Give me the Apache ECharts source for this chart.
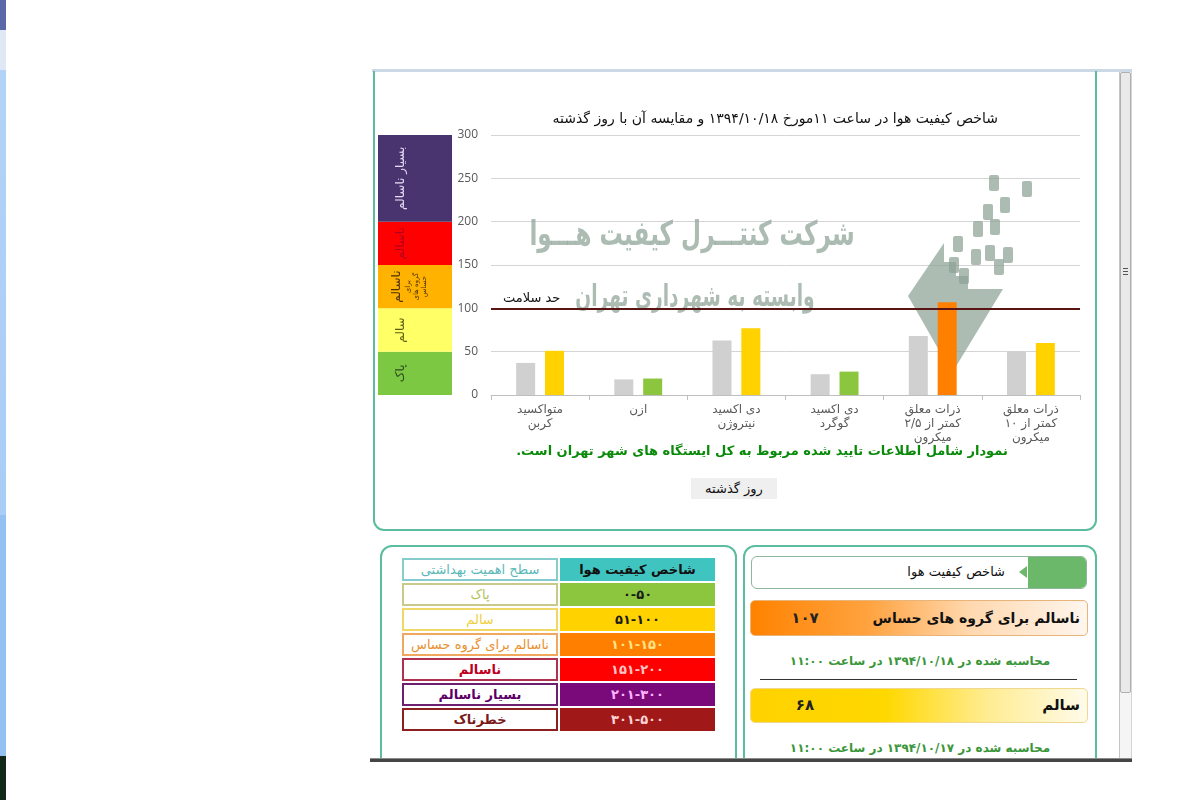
<!DOCTYPE html>
<html><head><meta charset="utf-8">
<script src="https://cdn.jsdelivr.net/npm/echarts@6/dist/echarts.min.js"></script>
<style>
html,body{margin:0;padding:0;}
body{width:1200px;height:800px;overflow:hidden;background:#fff;position:relative;font-family:"DejaVu Sans",sans-serif;}
.abs{position:absolute;box-sizing:border-box;}
.rtl{direction:rtl;white-space:nowrap;}
#chart{position:absolute;left:0;top:0;width:1200px;height:800px;pointer-events:none;direction:rtl;}
.cell{position:absolute;box-sizing:border-box;height:23px;line-height:20px;text-align:center;font-size:13px;direction:rtl;white-space:nowrap;}
</style></head>
<body>
<!-- left browser strip -->
<div class="abs" style="left:0;top:0;width:6px;height:800px;background:linear-gradient(to bottom,#5b68a8 0,#5b68a8 30px,#dfe8f4 30px,#dfe8f4 70px,#b3d2f7 70px,#a9cdf6 515px,#93c1f4 515px,#93c1f4 756px,#12281a 756px,#12281a 800px);"></div>

<!-- top light line -->
<div class="abs" style="left:372px;top:69px;width:760px;height:3px;background:#cbd8e6;"></div>

<!-- clipped page area -->
<div class="abs" style="left:0;top:71px;width:1200px;height:689px;overflow:hidden;">
  <div class="abs" style="left:373px;top:-30px;width:724px;height:490px;border:2px solid #5cbc9f;border-radius:11px;"></div>
  <div class="abs" style="left:380px;top:474px;width:357px;height:300px;border:2px solid #5cbc9f;border-radius:12px;"></div>
  <div class="abs" style="left:743px;top:474px;width:354px;height:300px;border:2px solid #5cbc9f;border-radius:12px;"></div>
</div>

<!-- scrollbar -->
<div class="abs" style="left:1119px;top:72px;width:13px;height:688px;background:#f5f5f5;border-left:1px solid #c4c4c4;border-right:1px solid #d4d4d4;"></div>
<div class="abs" style="left:1120px;top:72px;width:11px;height:621px;background:#e9e9e9;border:1px solid #b0b0b0;border-radius:2px;"></div>
<div class="abs" style="left:1123px;top:268px;width:5px;height:1px;background:#555;"></div>
<div class="abs" style="left:1123px;top:271px;width:5px;height:1px;background:#555;"></div>
<div class="abs" style="left:1123px;top:274px;width:5px;height:1px;background:#555;"></div>

<!-- bottom dark line -->
<div class="abs" style="left:370px;top:758px;width:762px;height:4px;background:linear-gradient(to bottom,#8a8a8a 0,#8a8a8a 1px,#454545 1px);"></div>

<!-- button -->
<div class="abs rtl" id="btn" style="left:691px;top:478px;width:86px;height:21px;background:#efefef;text-align:center;line-height:21px;font-size:13px;color:#111;"></div>

<!-- table container -->
<div id="table"></div>

<!-- right panel -->
<div class="abs" style="left:751px;top:556px;width:336px;height:33px;border:1px solid #8fb79a;border-radius:6px;background:#fff;overflow:hidden;">
  <div class="abs" style="right:0;top:0;width:58px;height:33px;background:#6cb86a;"></div>
</div>
<div class="abs" style="left:1019px;top:566px;width:0;height:0;border-top:6px solid transparent;border-bottom:6px solid transparent;border-right:8px solid #6cb86a;"></div>
<div class="abs rtl" id="hdr" style="left:751px;width:254px;top:556px;height:33px;line-height:31px;text-align:right;font-size:13px;color:#111;"></div>

<div class="abs" style="left:750px;top:600px;width:338px;height:36px;border:1px solid #e8b47a;border-radius:5px;background:linear-gradient(to right,#ff8200 0%,#ffa340 35%,#ffd8ae 65%,#fff6ee 100%);"></div>
<div class="abs rtl" id="todayName" style="left:840px;width:240px;top:600px;height:36px;line-height:36px;text-align:right;font-size:14px;font-weight:bold;color:#111;"></div>
<div class="abs" id="todayVal" style="left:770px;width:70px;top:600px;height:36px;line-height:36px;text-align:center;font-size:15px;font-weight:bold;color:#222;letter-spacing:4px;"></div>
<div class="abs rtl" id="todayCalc" style="left:760px;width:320px;top:652px;height:18px;line-height:18px;text-align:center;font-size:12px;font-weight:bold;color:#3a963a;"></div>
<div class="abs" style="left:760px;top:679px;width:317px;height:1px;background:#333;"></div>
<div class="abs" style="left:750px;top:688px;width:338px;height:35px;border:1px solid #f0d890;border-radius:5px;background:linear-gradient(to right,#ffd200 0%,#ffd800 40%,#ffec90 70%,#fffbea 100%);"></div>
<div class="abs rtl" id="yestName" style="left:840px;width:240px;top:688px;height:35px;line-height:35px;text-align:right;font-size:15px;font-weight:bold;color:#111;"></div>
<div class="abs" id="yestVal" style="left:770px;width:70px;top:688px;height:35px;line-height:35px;text-align:center;font-size:15px;font-weight:bold;color:#222;letter-spacing:4px;"></div>
<div class="abs rtl" id="yestCalc" style="left:760px;width:320px;top:739px;height:18px;line-height:18px;text-align:center;font-size:12px;font-weight:bold;color:#3a963a;"></div>

<div id="chart"></div>

<script>
// ---------- data ----------
const chartTitle = 'شاخص کیفیت هوا در ساعت ۱۱مورخ ۱۳۹۴/۱۰/۱۸ و مقایسه آن با روز گذشته';
const categories = ['متواکسید\nکربن', 'ازن', 'دی اکسید\nنیتروژن', 'دی اکسید\nگوگرد', 'ذرات معلق\nکمتر از ۲/۵\nمیکرون', 'ذرات معلق\nکمتر از ۱۰\nمیکرون'];
const yesterdayValues = [37, 18, 63, 24, 68, 50];
const todayValues = [51, 19, 77, 27, 107, 60];
const axisMin = 0, axisMax = 300, axisStep = 50;
const safeLimit = 100;
const safeLimitLabel = 'حد سلامت';
const bandSpans = [50, 50, 50, 50, 100];
const bandLabels = ['پاک', 'سالم', 'ناسالم', 'ناسالم', 'بسیار ناسالم'];
const bandSubLabel = ['برای', 'گروه های', 'حساس'];
const levelUpper = [50, 100, 150, 200, 300, 500];
const levelBarColors = ['#8cc63e', '#ffd200', '#ff8000', '#ff0000', '#7a0a7a', '#a01818'];
const levelNames = ['پاک', 'سالم', 'ناسالم برای گروه حساس', 'ناسالم', 'بسیار ناسالم', 'خطرناک'];
const levelRanges = ['۰-۵۰', '۵۱-۱۰۰', '۱۰۱-۱۵۰', '۱۵۱-۲۰۰', '۲۰۱-۳۰۰', '۳۰۱-۵۰۰'];
const tableHeaders = ['سطح اهمیت بهداشتی', 'شاخص کیفیت هوا'];
const noteText = 'نمودار شامل اطلاعات تایید شده مربوط به کل ایستگاه های شهر تهران است.';
const buttonText = 'روز گذشته';
const panelHeader = 'شاخص کیفیت هوا';
const todayAQI = '۱۰۷', todayStatus = 'ناسالم برای گروه های حساس', todayCalc = 'محاسبه شده در ۱۳۹۴/۱۰/۱۸ در ساعت ۱۱:۰۰';
const yesterdayAQI = '۶۸', yesterdayStatus = 'سالم', yesterdayCalc = 'محاسبه شده در ۱۳۹۴/۱۰/۱۷ در ساعت ۱۱:۰۰';
const watermark1 = 'شرکت کنتـــرل کیفیت هـــوا';
const watermark2 = 'وابسته به شهرداری تهران';

// ---------- html texts ----------
document.getElementById('btn').textContent = buttonText;
document.getElementById('hdr').textContent = panelHeader;
document.getElementById('todayName').textContent = todayStatus;
document.getElementById('todayVal').textContent = todayAQI;
document.getElementById('todayCalc').textContent = todayCalc;
document.getElementById('yestName').textContent = yesterdayStatus;
document.getElementById('yestVal').textContent = yesterdayAQI;
document.getElementById('yestCalc').textContent = yesterdayCalc;

// table
const leftBorder = ['#c9c98a', '#f0d868', '#f0a860', '#b03050', '#6e2070', '#8b2020'];
const leftText = ['#b4c25a', '#f0cf3c', '#e8902e', '#c00020', '#5c0068', '#7a1a1a'];
const rightText = ['#1a1a1a', '#1a1a1a', '#ffe38a', '#ffc4c4', '#ffb4ff', '#ffd4d4'];
const tbl = document.getElementById('table');
function cell(x, y, w, txt, style) {
  const d = document.createElement('div');
  d.className = 'cell';
  d.style.left = x + 'px'; d.style.top = y + 'px'; d.style.width = w + 'px';
  Object.assign(d.style, style);
  d.textContent = txt;
  tbl.appendChild(d);
}
cell(402, 558, 156, tableHeaders[0], {border: '2px solid #86cccc', color: '#5bb8b8', background: '#fff'});
cell(560, 558, 155, tableHeaders[1], {background: '#40c4bf', color: '#111', fontWeight: 'bold', lineHeight: '23px'});
levelNames.forEach((n, i) => {
  const y = 583 + i * 25;
  cell(402, y, 156, n, {border: '2px solid ' + leftBorder[i], color: leftText[i], background: '#fff', fontWeight: i >= 3 ? 'bold' : 'normal'});
  cell(560, y, 155, levelRanges[i], {background: levelBarColors[i], color: rightText[i], fontWeight: 'bold', lineHeight: '23px', letterSpacing: '2px'});
});

// ---------- chart ----------
const fa = '"DejaVu Sans", sans-serif';
function levelColor(v) {
  for (let i = 0; i < levelUpper.length; i++) if (v <= levelUpper[i]) return levelBarColors[i];
  return levelBarColors[levelBarColors.length - 1];
}
const bandColors = ['#7cc843', '#ffff66', '#ffb300', '#ff0000', '#4a3470'];
const bandTextColors = ['#2c4a1c', '#5e6010', '#4a3000', '#b00020', '#e4dcf4'];

const bandSeries = bandSpans.map((v, i) => {
  const lbl = {
    show: true, rotate: 90, position: [23, '50%'], align: 'center', verticalAlign: 'middle',
    formatter: bandLabels[i], color: bandTextColors[i], fontFamily: fa, fontSize: 12
  };
  if (i === 2) {
    lbl.position = [31, '50%'];
    lbl.formatter = '{a|' + bandLabels[i] + '}\n' + bandSubLabel.map(s => '{b|' + s + '}').join('\n');
    lbl.rich = {
      a: {fontSize: 12, lineHeight: 15, color: bandTextColors[i], fontFamily: fa},
      b: {fontSize: 7, lineHeight: 8, color: bandTextColors[i], fontFamily: fa}
    };
  }
  return {
    type: 'bar', xAxisIndex: 1, yAxisIndex: 1, stack: 'band', barWidth: '100%',
    data: [v], itemStyle: {color: bandColors[i]}, silent: true, label: lbl
  };
});

// logo pieces (decorative watermark)
const logoRects = [[989,175],[1022,181],[1000,197],[983,204],[990,219],[973,221],[953,236],[985,245],[1003,247],[971,249],[949,257],[994,259],[959,268]];
const wmFill = 'rgba(140,162,150,0.72)';
const graphics = [
  {type: 'text', z: 1, x: 692, y: 236, scaleX: 0.68, style: {x: 0, y: 0, text: watermark1, fill: wmFill, font: 'bold 34px "DejaVu Sans"', align: 'center', verticalAlign: 'middle'}},
  {type: 'text', z: 1, x: 695, y: 298, scaleX: 0.62, style: {x: 0, y: 0, text: watermark2, fill: wmFill, font: 'bold 30px "DejaVu Sans"', align: 'center', verticalAlign: 'middle'}},
  {type: 'polygon', z: 1, shape: {points: [[908,296],[944,243],[944,262],[956,262],[956,276],[968,276],[968,289],[1003,289],[952,373]]}, style: {fill: wmFill}},
  {type: 'text', z: 5, style: {x: 762, y: 452, text: noteText, fill: '#0a8a0a', font: 'bold 13px "DejaVu Sans"', align: 'center', verticalAlign: 'middle'}}
];
logoRects.forEach(p => graphics.push({type: 'rect', z: 1, shape: {x: p[0], y: p[1], width: 10, height: 16, r: 2}, style: {fill: wmFill}}));

const chart = echarts.init(document.getElementById('chart'), null, {renderer: 'canvas', width: 1200, height: 800});
chart.setOption({
  animation: false,
  title: {text: chartTitle, right: 197, top: 107, textStyle: {fontFamily: fa, fontSize: 14, fontWeight: 'normal', color: '#111'}},
  grid: [
    {left: 491, right: 120, top: 135, bottom: 405},
    {left: 378, width: 74, top: 135, bottom: 405}
  ],
  xAxis: [
    {type: 'category', gridIndex: 0, data: categories,
      axisLine: {lineStyle: {color: '#bfbfbf'}},
      axisTick: {show: true, length: 5, lineStyle: {color: '#bfbfbf'}},
      axisLabel: {color: '#595959', fontFamily: fa, fontSize: 12, lineHeight: 14, margin: 8, interval: 0}},
    {type: 'category', gridIndex: 1, data: ['band'], show: false}
  ],
  yAxis: [
    {type: 'value', gridIndex: 0, min: axisMin, max: axisMax, interval: axisStep,
      axisLine: {show: false}, axisTick: {show: false},
      axisLabel: {color: '#595959', fontFamily: '"Open Sans", sans-serif', fontSize: 12, margin: 13},
      splitLine: {lineStyle: {color: '#d4d4d4'}}},
    {type: 'value', gridIndex: 1, min: axisMin, max: axisMax, show: false}
  ],
  series: [
    {type: 'bar', name: 'yesterday', data: yesterdayValues, barWidth: 19, barGap: '52%',
      itemStyle: {color: '#d0d0d0'}, z: 3,
      markLine: {silent: true, symbol: ['none', 'none'], data: [{yAxis: safeLimit}],
        lineStyle: {color: '#5a1414', width: 2, type: 'solid'},
        label: {show: true, position: 'insideStartTop', formatter: safeLimitLabel, color: '#111', fontFamily: fa, fontSize: 13, distance: [12, 3]}}},
    {type: 'bar', name: 'today', z: 3, barWidth: 19,
      data: todayValues.map(v => ({value: v, itemStyle: {color: levelColor(v)}}))}
  ].concat(bandSeries),
  graphic: graphics
});
</script>
</body></html>
